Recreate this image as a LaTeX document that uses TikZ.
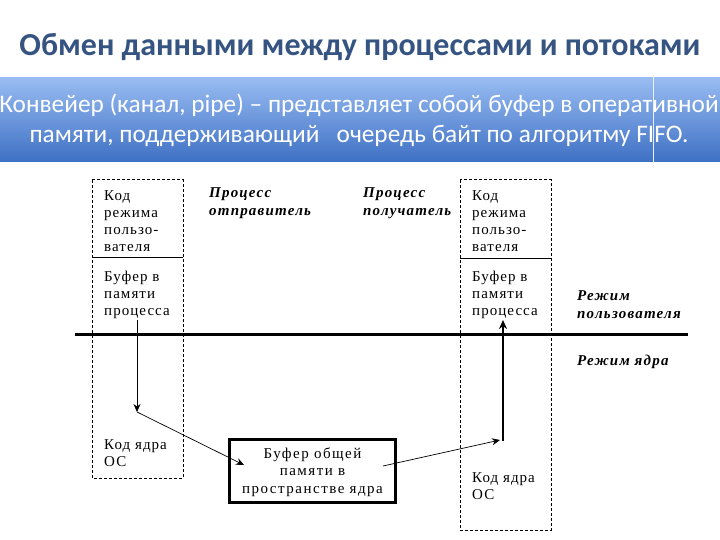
\documentclass[tikz,border=0pt]{standalone}
\usepackage{fontspec}
\setmainfont{Liberation Serif}
\newfontfamily\calib{Carlito}
\newfontfamily\wideserif[LetterSpace=7]{Liberation Serif}
\newfontfamily\widerserif[LetterSpace=10]{Liberation Serif}
\newfontfamily\widebi[LetterSpace=8]{Liberation Serif Bold Italic}
\usetikzlibrary{arrows.meta}
\definecolor{titleblue}{RGB}{54,84,130}
\definecolor{bandtop}{RGB}{152,188,242}
\definecolor{bandbot}{RGB}{62,112,196}
\tikzset{
  dbox/.style={draw, line width=1pt, dash pattern=on 3pt off 2pt},
  btext/.style={anchor=north west, inner sep=0pt, align=left, font=\wideserif\fontsize{15}{17}\selectfont},
  lbl/.style={anchor=north west, inner sep=0pt, align=left, font=\widebi\fontsize{15}{18.5}\selectfont},
  arr/.style={-{Stealth[length=8pt,width=7pt]}, line width=0.7pt},
  thickarr/.style={-{Stealth[length=9pt,width=8pt]}, line width=2.2pt}
}
\begin{document}
\begin{tikzpicture}[x=1pt,y=-1pt]
\useasboundingbox (0,0) rectangle (720,540);
\fill[white] (0,0) rectangle (720,540);
% title
\node[font=\calib\bfseries\fontsize{32}{36}\selectfont, text=titleblue] (title) at (360,47) {Обмен данными между процессами и потоками};
% band
\shade[top color=bandtop, bottom color=bandbot] (0,78) rectangle (720,162);
\node[font=\calib\fontsize{25.3}{30}\selectfont, text=white, align=center] (band) at (359,120)
  {Конвейер (канал, pipe) – представляет собой буфер в оперативной\\памяти, поддерживающий \ \ очередь байт по алгоритму FIFO.};
\draw[white!80!bandtop, line width=0.8pt] (653,75) -- (653,166);
% dashed boxes
\draw[dbox] (92,180) rectangle (183,478);
\draw[line width=0.8pt] (92,257) -- (183,257);
\draw[dbox] (460,180) rectangle (551,530);
\draw[line width=0.8pt] (460,258) -- (551,258);
% box texts
\node[btext] (lk) at (104,190) {Код\\режима\\пользо-\\вателя};
\node[btext] (lb) at (104,271) {Буфер в\\памяти\\процесса};
\node[btext] (lo) at (104,439) {Код ядра\\ОС};
\node[btext] (rk) at (472,190) {Код\\режима\\пользо-\\вателя};
\node[btext] (rb) at (472,271) {Буфер в\\памяти\\процесса};
\node[btext] (ro) at (472,472) {Код ядра\\ОС};
% labels
\node[lbl] (ps) at (209,187) {Процесс\\отправитель};
\node[lbl] (pr) at (363,187) {Процесс\\получатель};
\node[lbl] (mu) at (577,290) {Режим\\пользователя};
\node[lbl] (mk) at (577,355) {Режим ядра};
% mode line
\coordinate (mL) at (75,334);
\coordinate (mR) at (688,334);
\draw[line width=3pt] (mL) -- (mR);
% shared buffer
\node[draw, line width=2.6pt, minimum width=166pt, minimum height=63pt, align=center,
      font=\widerserif\fontsize{15}{17.5}\selectfont] (buf) at (312.5,471)
  {\rule{0pt}{13pt}Буфер общей\\памяти в\\пространстве ядра};
% arrows
\coordinate (p1) at (137,320);
\coordinate (p2) at (137,412);
\coordinate (p3) at (244,465);
\draw[arr] (p1) -- (p2);
\draw[arr] (p2) -- (p3);
\coordinate (q1) at (383,466);
\coordinate (q2) at (500,440);
\coordinate (q3) at (503,441);
\coordinate (q4) at (503,320);
\draw[arr] (q1) -- (q2);
\draw[thickarr] (q3) -- (q4);
\end{tikzpicture}
\end{document}
